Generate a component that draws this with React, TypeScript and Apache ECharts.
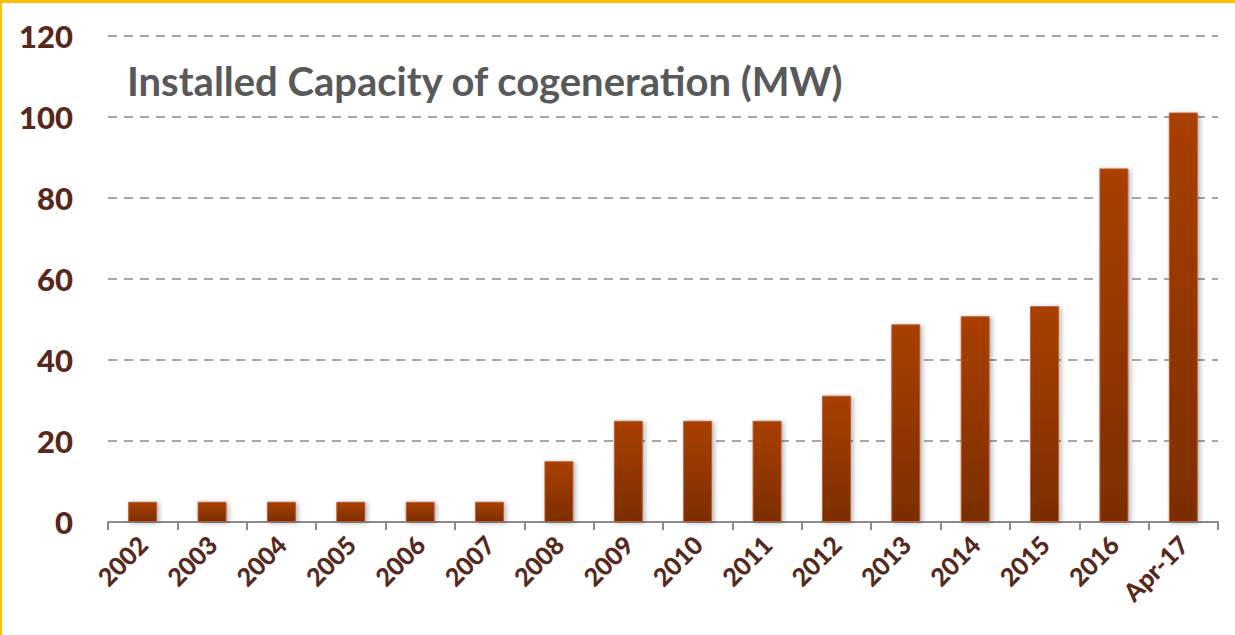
import React, { useEffect, useRef } from "react";
import * as echarts from "echarts";

const categories = ["2002", "2003", "2004", "2005", "2006", "2007", "2008", "2009", "2010", "2011", "2012", "2013", "2014", "2015", "2016", "Apr-17"];
const capacityMW = [5, 5, 5, 5, 5, 5, 15, 25, 25, 25, 31.2, 48.8, 50.8, 53.3, 87.3, 101.1];
const yTicks = { min: 0, max: 120, interval: 20 };
const titleText = "Installed Capacity of cogeneration (MW)";

export default function App() {
  const ref = useRef<HTMLDivElement>(null);
  useEffect(() => {
    if (!ref.current) return;
    const chart = echarts.init(ref.current, null, { renderer: "svg" });
    const labelColor = "#56291C";
    chart.setOption({
      animation: false,
      backgroundColor: "#ffffff",
      title: {
        text: titleText,
        left: 122,
        top: 56,
        textStyle: { fontFamily: "Lato", fontWeight: "bold", fontSize: 40, color: "#595959" },
      },
      grid: { left: 108, right: 17, top: 36, bottom: 113, containLabel: false },
      xAxis: {
        type: "category",
        data: categories,
        axisLine: { show: true, lineStyle: { color: "#8C8C8C", width: 2 } },
        axisTick: { show: true, length: 8, lineStyle: { color: "#8C8C8C", width: 2 } },
        axisLabel: {
          rotate: 45,
          margin: 18,
          fontFamily: "Lato",
          fontWeight: 900,
          fontSize: 25,
          color: labelColor,
        },
        splitLine: { show: false },
      },
      yAxis: {
        type: "value",
        min: yTicks.min,
        max: yTicks.max,
        interval: yTicks.interval,
        axisLine: { show: false },
        axisTick: { show: false },
        axisLabel: {
          margin: 35,
          fontFamily: "Lato",
          fontWeight: 900,
          fontSize: 31,
          color: labelColor,
        },
        splitLine: { show: true, lineStyle: { color: "#A6A6A6", width: 2, type: [9, 7] } },
      },
      series: [
        {
          type: "bar",
          data: capacityMW,
          barWidth: 29,
          itemStyle: {
            color: new echarts.graphic.LinearGradient(0, 0, 0, 1, [
              { offset: 0, color: "#AA3F00" },
              { offset: 1, color: "#7B2E00" },
            ]),
            borderColor: "#B5603A",
            borderWidth: 1,
            shadowBlur: 5,
            shadowColor: "rgba(0,0,0,0.3)",
            shadowOffsetX: 2,
            shadowOffsetY: 1,
          },
        },
      ],
      graphic: [
        { type: "rect", left: 0, top: 0, shape: { width: 1235, height: 3 }, style: { fill: "#FFC000" } },
        { type: "rect", left: 0, top: 0, shape: { width: 2, height: 635 }, style: { fill: "#FFC000" } },
      ],
    });
    return () => chart.dispose();
  }, []);
  return (
    <div
      ref={ref}
      style={{ position: "fixed", left: 0, top: 0, width: 1235, height: 635 }}
    />
  );
}
